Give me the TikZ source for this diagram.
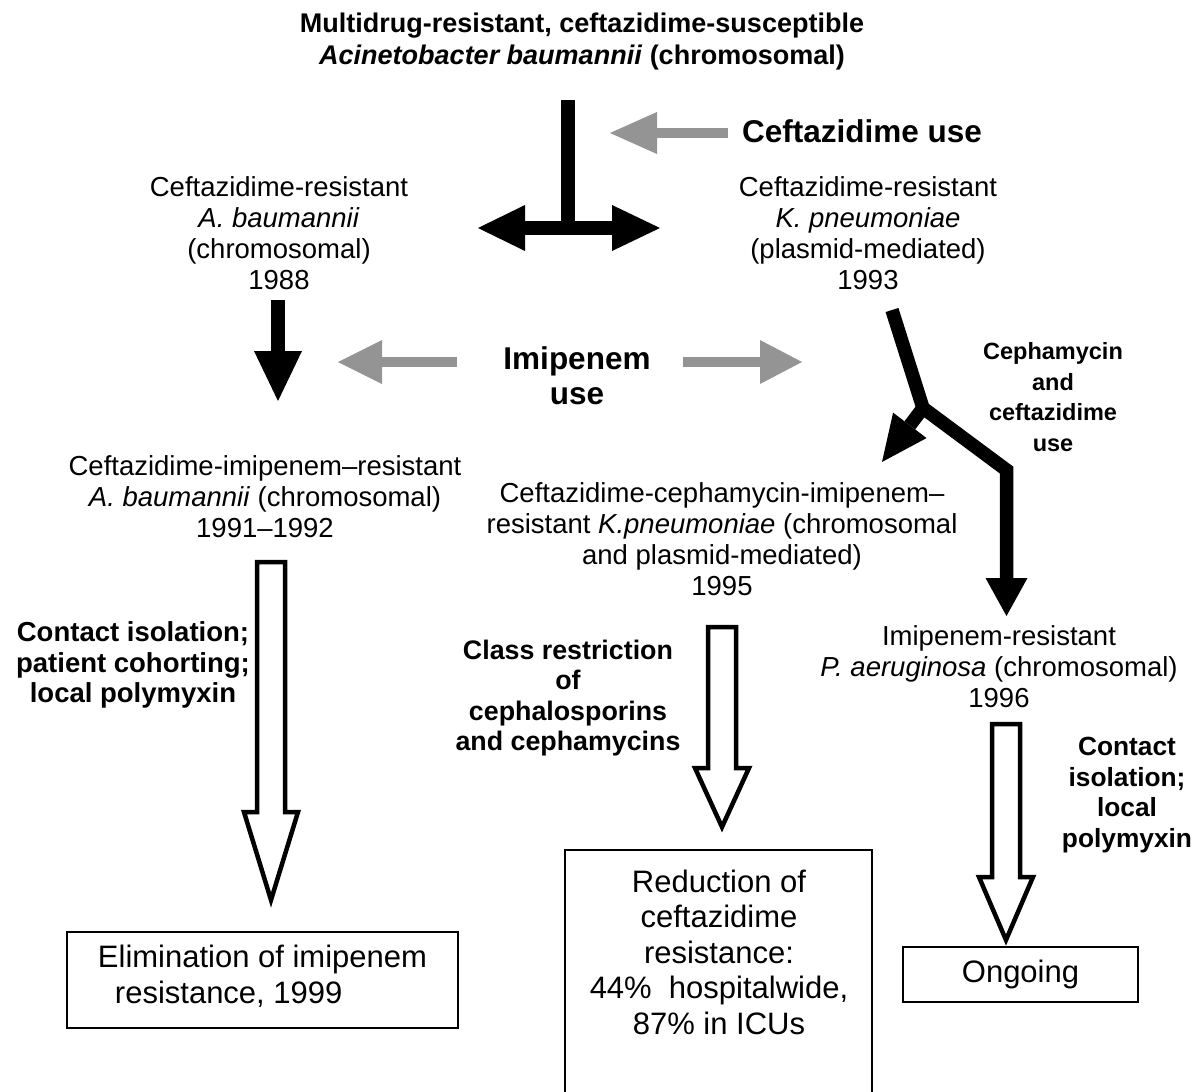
\documentclass[tikz,border=0pt]{standalone}
\usepackage{fontspec}
\setmainfont{Liberation Sans}
\usetikzlibrary{arrows.meta}
\begin{document}
\begin{tikzpicture}[x=1pt,y=-1pt]
\tikzset{
  txt/.style={inner sep=0pt, align=center, font=\fontsize{27.5}{31}\selectfont},
  lab/.style={inner sep=0pt, align=center, font=\bfseries\fontsize{#1}{30.6}\selectfont},
  biglab/.style={inner sep=0pt, align=center, font=\bfseries\fontsize{31.5}{35}\selectfont},
  boxtxt/.style={inner sep=0pt, font=\fontsize{31}{35.5}\selectfont},
  frame/.style={draw=black, line width=2pt},
  blk/.style={draw=black, line width=13.5pt, line join=miter, line cap=butt},
  gry/.style={draw=black!42, line width=10pt, line cap=butt},
  hollow/.style={draw=black, line width=4.5pt, fill=white, line join=miter},
}
\newcommand\hollowarr[4]{%
  \draw[hollow] (#1-14,#2) -- (#1+14,#2) -- (#1+14,#3) -- (#1+27,#3) -- (#1,#4)
     -- (#1-27,#3) -- (#1-14,#3) -- cycle;}
\useasboundingbox (0,0) rectangle (1203,1092);
\clip (0,0) rectangle (1203,1092);

% ---------- text nodes ----------
\node[inner sep=0pt, align=center, font=\bfseries\fontsize{27}{32}\selectfont] (t) at (582,42)
  {Multidrug-resistant, ceftazidime-susceptible\\\textit{Acinetobacter baumannii} (chromosomal)};
\node[biglab] (cu) at (862,131) {Ceftazidime use};
\node[txt] (ab) at (279,233) {Ceftazidime-resistant\\\textit{A. baumannii}\\(chromosomal)\\1988};
\node[txt] (kp) at (868,233) {Ceftazidime-resistant\\\textit{K. pneumoniae}\\(plasmid-mediated)\\1993};
\node[biglab] (iu) at (577,376) {Imipenem\\use};
\node[lab=23.5] (cc) at (1053,397) {Cephamycin\\and\\ceftazidime\\use};
\node[txt] (abi) at (265,497) {Ceftazidime-imipenem--resistant\\\textit{A. baumannii} (chromosomal)\\1991--1992};
\node[txt] (kpi) at (722,539) {Ceftazidime-cephamycin-imipenem--\\resistant \textit{K.pneumoniae} (chromosomal\\and plasmid-mediated)\\1995};
\node[txt] (pa) at (999,667) {Imipenem-resistant\\\textit{P. aeruginosa} (chromosomal)\\1996};
\node[lab=27.5] (l1) at (133,665) {Contact isolation;\\patient cohorting;\\local polymyxin};
\node[lab=26.8] (l2) at (568,698) {Class restriction\\of\\cephalosporins\\and cephamycins};
\node[lab=26.3] (r3) at (1127,795) {Contact\\isolation;\\local\\polymyxin};

% ---------- outcome boxes ----------
\node[frame, minimum width=391pt, minimum height=96pt, inner sep=0pt] (b1) at (262.5,980) {};
\node[boxtxt, align=left] (b1t) at (262.5,976) {Elimination of imipenem\\\hspace*{17pt}resistance, 1999};
\draw[frame] (565,1110) -- (565,850) -- (872,850) -- (872,1110);
\node[boxtxt, align=center] (b2) at (719,952) {Reduction of\\ceftazidime\\resistance:\\44\%\ \ hospitalwide,\\87\% in ICUs};
\node[frame, boxtxt, minimum width=235pt, minimum height=55pt] (b3) at (1020.5,974.5) {Ongoing};

% ---------- black arrows ----------
\coordinate (tTop) at (568,100);
\coordinate (tMid) at (568,228);
\coordinate (tL) at (478,228);
\coordinate (tR) at (660,228);
\draw[blk] (tTop) -- (tMid);
\draw[blk, {Triangle[length=47pt,width=46pt,line width=0pt]}-{Triangle[length=48pt,width=46pt,line width=0pt]}] (tL) -- (tR);

\coordinate (aS) at (278,300);
\coordinate (aE) at (278,401);
\draw[blk, line width=14pt, -{Triangle[length=50pt,width=48pt,line width=0pt]}] (aS) -- (aE);

\coordinate (kS) at (892,310);
\coordinate (kJ) at (923,408);
\coordinate (kC) at (1006.5,470);
\coordinate (kE) at (1006.5,616);
\coordinate (kT) at (882,462);
\draw[blk] (kS) -- (kJ) -- (kC) -- (kE|-0,585);
\draw[blk, -{Triangle[length=38pt,width=42pt,line width=0pt]}] (kC) -- (kE);
\draw[blk, -{Triangle[length=46pt,width=42pt,line width=0pt]}] (kJ) -- (kT);

% ---------- grey arrows ----------
\coordinate (g1s) at (728,133);
\coordinate (g1e) at (610,133);
\draw[gry, -{Triangle[length=47pt,width=42pt,line width=0pt]}] (g1s) -- (g1e);
\coordinate (g2s) at (457,362);
\coordinate (g2e) at (338,362);
\draw[gry, -{Triangle[length=44pt,width=44pt,line width=0pt]}] (g2s) -- (g2e);
\coordinate (g3s) at (683,362);
\coordinate (g3e) at (802,362);
\draw[gry, -{Triangle[length=42pt,width=44pt,line width=0pt]}] (g3s) -- (g3e);

% ---------- hollow arrows ----------
\hollowarr{271}{562}{812}{900}
\hollowarr{722}{627}{768}{827}
\hollowarr{1006}{724}{877}{940}
\end{tikzpicture}
\end{document}
